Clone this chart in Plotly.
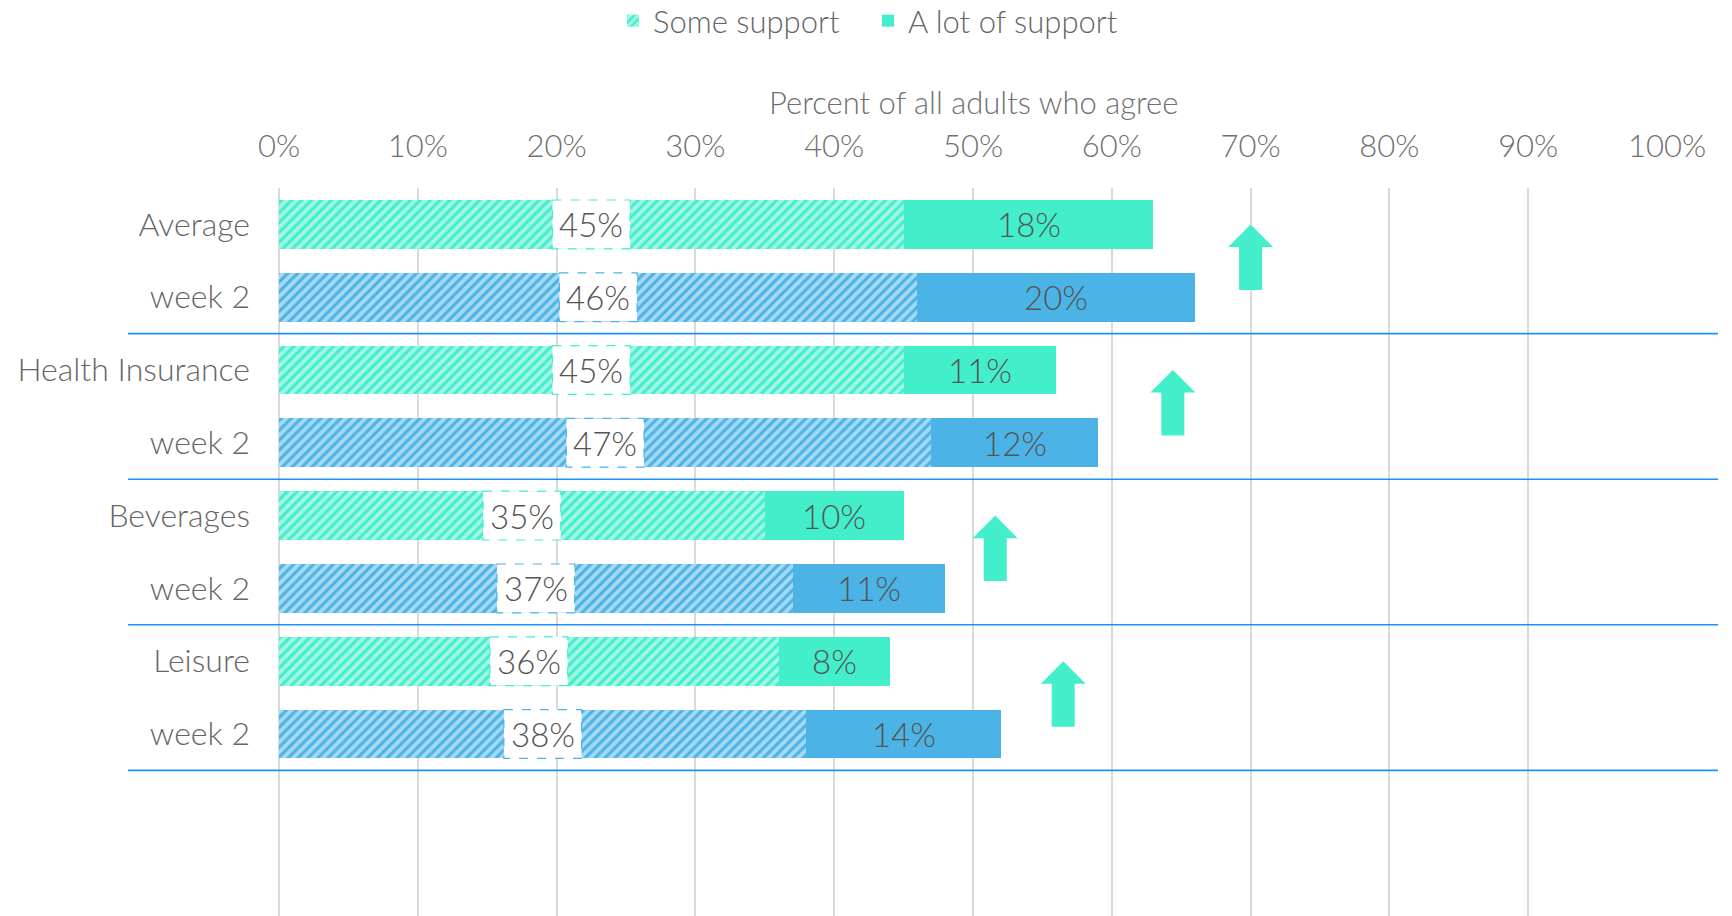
import plotly.graph_objects as go

# ---------------- data ----------------
groups = ["Average", "Health Insurance", "Beverages", "Leisure"]
row_labels = ["Average", "week 2", "Health Insurance", "week 2",
              "Beverages", "week 2", "Leisure", "week 2"]
some_support = [45, 45, 35, 36]          # baseline, hatched
lot_support = [18, 11, 10, 8]            # baseline, solid
some_support_w2 = [46, 47, 37, 38]       # week 2, hatched
lot_support_w2 = [20, 12, 11, 14]        # week 2, solid
arrow_x = [70, 64.4, 51.6, 56.5]         # x position (percent) of the up arrows
x_ticks = [0, 10, 20, 30, 40, 50, 60, 70, 80, 90, 100]
x_ticktext = [f"{v}%" for v in x_ticks]

# ---------------- styles ----------------
TEAL = "#43EFCB"
BLUE = "#4CB3E6"
SEP = "#1E8FFF"
GRID = "#DADADA"
FONT = "Lato"
OFF = 8                      # page body margin
W, H = 1732 - OFF, 916 - OFF
ML, MR, MT, MB = 279 - OFF, 1732 - 1667, 188 - OFF, 0
PW, PH = W - ML - MR, H - MT - MB

base_rows = [2 * i for i in range(len(groups))]
w2_rows = [2 * i + 1 for i in range(len(groups))]

fig = go.Figure()

def pat(color):
    # white diagonal gaps on a coloured bar
    return dict(shape="/", fgcolor="white", bgcolor=color, size=7, solidity=0.55)

fig.add_trace(go.Bar(y=base_rows, x=some_support, orientation="h", name="Some support",
                     marker=dict(color=TEAL, pattern=pat(TEAL), line=dict(width=0)),
                     width=0.67, legendrank=1, hoverinfo="skip"))
fig.add_trace(go.Bar(y=base_rows, x=lot_support, base=some_support, orientation="h",
                     name="A lot of support", marker=dict(color=TEAL, line=dict(width=0)),
                     width=0.67, legendrank=2, hoverinfo="skip"))
fig.add_trace(go.Bar(y=w2_rows, x=some_support_w2, orientation="h", name="Some support wk2",
                     marker=dict(color=BLUE, pattern=pat(BLUE), line=dict(width=0)),
                     width=0.67, showlegend=False, hoverinfo="skip"))
fig.add_trace(go.Bar(y=w2_rows, x=lot_support_w2, base=some_support_w2, orientation="h",
                     name="A lot of support wk2", marker=dict(color=BLUE, line=dict(width=0)),
                     width=0.67, showlegend=False, hoverinfo="skip"))

shapes = []
annotations = []
BOXW = 2.8
HALF = 0.335
LABEL_FONT = dict(family=FONT, size=33, color="#555555", weight=300)

def add_labels(rows, some, lot, color):
    for r, s, l in zip(rows, some, lot):
        c = s / 2
        shapes.append(dict(type="rect", xref="x", yref="y", x0=c - BOXW, x1=c + BOXW,
                           y0=r - HALF, y1=r + HALF, fillcolor="white",
                           line=dict(color=color, width=1.2, dash="dash"), layer="above"))
        annotations.append(dict(x=c, y=r, xref="x", yref="y", text=f"{s}%",
                                showarrow=False, font=LABEL_FONT))
        annotations.append(dict(x=s + l / 2, y=r, xref="x", yref="y", text=f"{l}%",
                                showarrow=False, font=LABEL_FONT))

add_labels(base_rows, some_support, lot_support, TEAL)
add_labels(w2_rows, some_support_w2, lot_support_w2, BLUE)

# separators below each week-2 row
for r in w2_rows:
    shapes.append(dict(type="line", xref="paper", yref="y",
                       x0=(128 - OFF - ML) / PW, x1=(1718 - OFF - ML) / PW,
                       y0=r + 0.5, y1=r + 0.5, line=dict(color=SEP, width=1.6), layer="above"))

# up arrows
HW, SW = 1.62, 0.83
TIP, HB, BOT = 0.0, 0.31, 0.9
for r, ax in zip(base_rows, arrow_x):
    path = (f"M {ax} {r + TIP} L {ax + HW} {r + HB} L {ax + SW} {r + HB} "
            f"L {ax + SW} {r + BOT} L {ax - SW} {r + BOT} L {ax - SW} {r + HB} "
            f"L {ax - HW} {r + HB} Z")
    shapes.append(dict(type="path", xref="x", yref="y", path=path,
                       fillcolor=TEAL, line=dict(width=0), layer="above"))

annotations.append(dict(text="Percent of all adults who agree", xref="paper", yref="paper",
                        x=0.5, y=1 + (MT - (102 - OFF)) / PH, yanchor="middle",
                        showarrow=False,
                        font=dict(family=FONT, size=31, color="#707070", weight=300)))

fig.update_layout(
    width=W, height=H,
    margin=dict(l=ML, r=MR, t=MT, b=MB, pad=0),
    barmode="stack",
    plot_bgcolor="white", paper_bgcolor="white",
    shapes=shapes, annotations=annotations,
    font=dict(family=FONT, color="#666666", weight=300),
    legend=dict(orientation="h", xref="container", yref="container",
                x=(613 - OFF) / W, xanchor="left",
                y=1 - (21 - OFF) / H, yanchor="middle",
                font=dict(family=FONT, size=31, color="#666666", weight=300),
                traceorder="normal", itemwidth=30, entrywidth=210),
    xaxis=dict(side="top", range=[0, 100], tickvals=x_ticks, ticktext=x_ticktext,
               showgrid=True, gridcolor=GRID, gridwidth=2,
               zeroline=True, zerolinecolor=GRID, zerolinewidth=2,
               showline=False, ticks="", ticklabelstandoff=24,
               tickfont=dict(family=FONT, size=31, color="#707070", weight=300)),
    yaxis=dict(range=[9.5, -0.5], tickvals=list(range(len(row_labels))), ticktext=row_labels,
               showgrid=False, zeroline=False, showline=False, ticks="",
               ticklabelstandoff=28,
               tickfont=dict(family=FONT, size=32, color="#666666", weight=300)),
)

fig.write_html("out.html")
